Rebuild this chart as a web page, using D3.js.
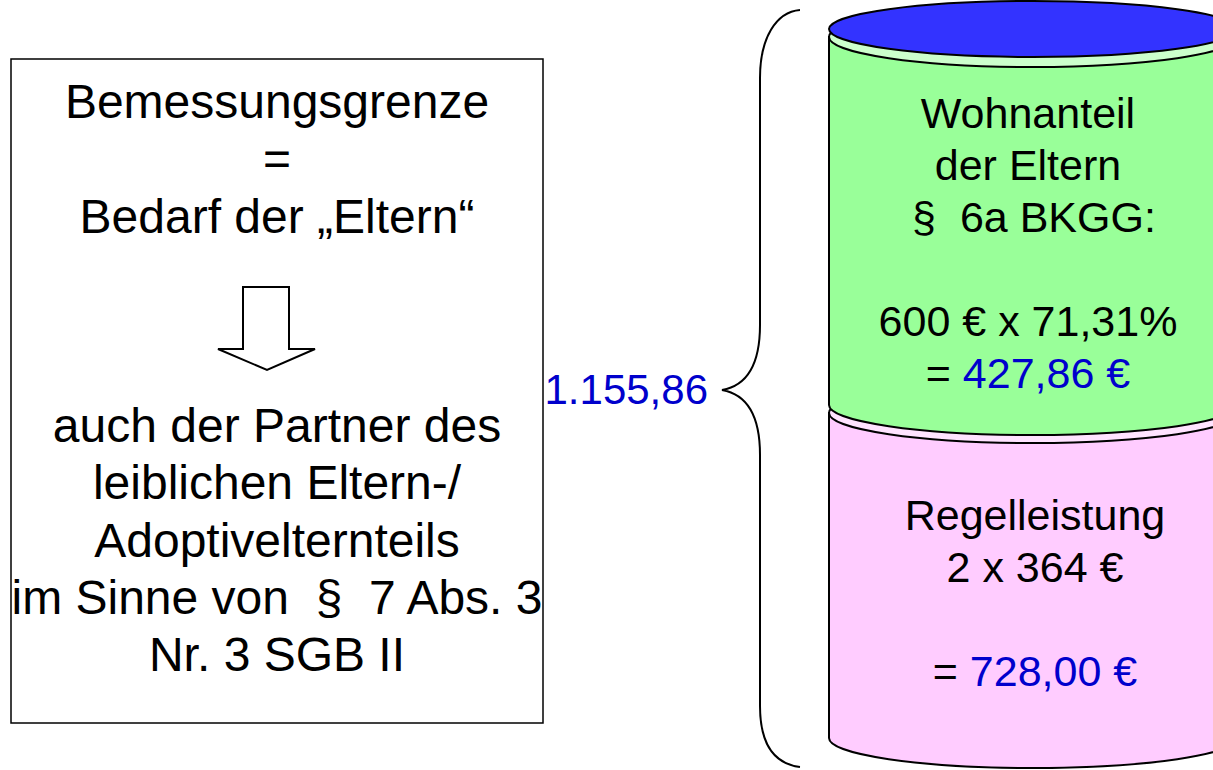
<!DOCTYPE html>
<html>
<head>
<meta charset="utf-8">
<script src="https://cdn.jsdelivr.net/npm/d3@7"></script>
<style>
  body { margin: 0; background: #fff; }
  svg { display: block; font-family: "Liberation Sans", Arial, sans-serif; }
  text { white-space: pre; }
</style>
</head>
<body>
<svg id="vis" width="1213" height="770"></svg>
<script>
// data
const leftTop = ["Bemessungsgrenze", "=", "Bedarf der \u201EEltern\u201C"];
const leftBottom = ["auch der Partner des", "leiblichen Eltern-/", "Adoptivelternteils",
  "im Sinne von  \u00A7  7 Abs. 3", "Nr. 3 SGB II"];
const segNames = ["Wohnanteil", "Regelleistung"];
const segValues = [427.86, 728.00];
const segFill = ["#99ff99", "#ffccff"];
const segFace = ["#ccffcc", "#ffe3ff"];
const segText = [
  [["Wohnanteil"], ["der Eltern"], [" \u00A7  6a BKGG:"], [""], ["600 \u20AC x 71,31%"], ["= ", "427,86 \u20AC"]],
  [["Regelleistung"], ["2 x 364 \u20AC"], [""], ["= ", "728,00 \u20AC"]]
];
const total = "1.155,86";

const svg = d3.select("#vis");
const blue = "#0000cc";

// left box
svg.append("rect")
  .attr("x", 11).attr("y", 59).attr("width", 532).attr("height", 664)
  .attr("fill", "none").attr("stroke", "#000").attr("stroke-width", 1.5);

const lineY = d3.scaleLinear().domain([0, 1]).range([0, 57.3]);

svg.selectAll(".lt").data(leftTop).join("text")
  .attr("x", 277).attr("y", (d, i) => 118 + lineY(i))
  .attr("text-anchor", "middle").attr("font-size", 48)
  .text(d => d);

svg.selectAll(".lb").data(leftBottom).join("text")
  .attr("x", 277).attr("y", (d, i) => 442 + lineY(i))
  .attr("text-anchor", "middle").attr("font-size", 48)
  .text(d => d);

// hollow arrow
svg.append("polygon")
  .attr("points", [[243, 287], [289, 287], [289, 349], [315, 349], [267, 370], [218, 349], [243, 349]].join(" "))
  .attr("fill", "#fff").attr("stroke", "#000").attr("stroke-width", 2);

// cylinder
const cx = 1033, rx = 204, ry = 30;
const y = d3.scaleLinear().domain([0, 1, 2]).range([37, 405, 738]);
const segTops = [y(0), y(1) + 8];

// draw bottom segment first so the upper one overlaps it
[1, 0].forEach(i => {
  const y0 = segTops[i], y1 = y(i + 1);
  const path = `M${cx - rx},${y0} V${y1} A${rx},${ry} 0 0 0 ${cx + rx},${y1} V${y0} Z`;
  svg.append("path").attr("d", path)
    .attr("fill", segFill[i]).attr("stroke", "#000").attr("stroke-width", 2);
  svg.append("ellipse")
    .attr("cx", cx).attr("cy", y0).attr("rx", rx).attr("ry", ry)
    .attr("fill", segFace[i]).attr("stroke", "#000").attr("stroke-width", 2);
});

// lid
svg.append("ellipse")
  .attr("cx", cx).attr("cy", 29).attr("rx", rx).attr("ry", 28)
  .attr("fill", "#3333ff").attr("stroke", "#000").attr("stroke-width", 2);

// segment labels
const segTextY = [128, 530];
const segTextX = [1028, 1035];
segText.forEach((lines, i) => {
  svg.selectAll(".seg" + i).data(lines).join("text")
    .attr("x", segTextX[i]).attr("y", (d, j) => segTextY[i] + j * 52)
    .attr("text-anchor", "middle").attr("font-size", 43)
    .each(function (parts) {
      const t = d3.select(this);
      parts.forEach((s, k) => {
        t.append("tspan").attr("fill", k === 1 ? blue : "#000").text(s);
      });
    });
});

// brace
svg.append("path")
  .attr("d", "M800,10 C776,12 760,38 760,78 V325 C760,368 745,386 722,390 C745,394 760,412 760,455 V706 C760,746 776,764 800,767")
  .attr("fill", "none").attr("stroke", "#000").attr("stroke-width", 2);

// total
svg.append("text")
  .attr("x", 708).attr("y", 404)
  .attr("text-anchor", "end").attr("font-size", 42).attr("fill", blue)
  .text(total);
</script>
</body>
</html>
